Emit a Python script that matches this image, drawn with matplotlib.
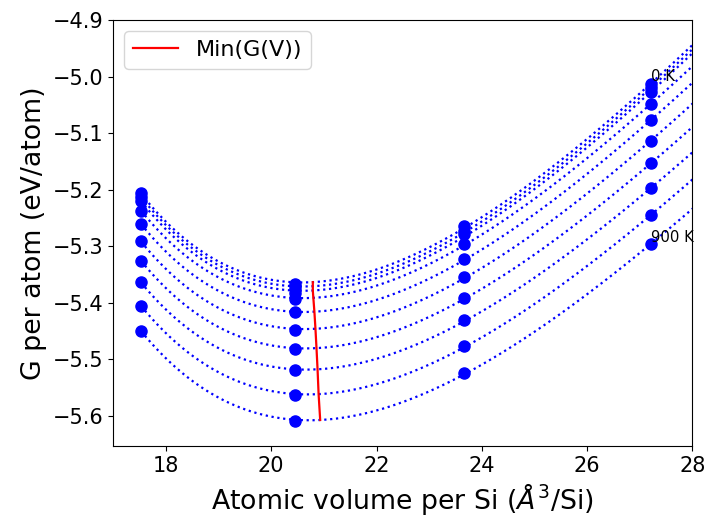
import matplotlib.pyplot as plt
import numpy as np

# atomic volume per Si (A^3)
volumes = np.array([17.53, 20.45, 23.67, 27.22])
temperatures = [0, 100, 200, 300, 400, 500, 600, 700, 800, 900]

# G per atom (eV/atom), one row per temperature, one column per volume
G = np.array([
    [-5.2065, -5.3670, -5.2637, -5.0130],
    [-5.2124, -5.3730, -5.2726, -5.0200],
    [-5.2195, -5.3820, -5.2784, -5.0278],
    [-5.2370, -5.3930, -5.2960, -5.0483],
    [-5.2607, -5.4170, -5.3227, -5.0767],
    [-5.2915, -5.4480, -5.3540, -5.1133],
    [-5.3257, -5.4820, -5.3906, -5.1535],
    [-5.3640, -5.5190, -5.4306, -5.1970],
    [-5.4053, -5.5630, -5.4760, -5.2448],
    [-5.4496, -5.6090, -5.5234, -5.2961],
])

# volume of the minimum at each temperature
v_min = np.array([20.79, 20.79, 20.79, 20.80, 20.82, 20.84, 20.86, 20.88, 20.90, 20.93])

fig = plt.figure(figsize=(7.05, 5.18), dpi=100)
ax = fig.add_axes([0.1607, 0.139, 0.8214, 0.8224])

# Birch-Murnaghan (2nd order): quadratic in V^(-2/3)
vfine = np.linspace(volumes.min(), 28.5, 300)
g_min = []
for i, T in enumerate(temperatures):
    coef = np.polyfit(volumes ** (-2 / 3), G[i], 2)
    fit = np.polyval(coef, vfine ** (-2 / 3))
    ax.plot(volumes, G[i], 'bo', markersize=8)
    ax.plot(vfine, fit, 'b:', linewidth=1.6)
    g_min.append(np.polyval(coef, v_min[i] ** (-2 / 3)))

ax.plot(v_min, g_min, 'r-', linewidth=1.6, label="Min(G(V))")

ax.text(volumes[-1], G[0, -1] + 0.005, "%d K" % temperatures[0], fontsize=10.7)
ax.text(volumes[-1], G[-1, -1] + 0.003, "%d K" % temperatures[-1], fontsize=10.7)

ax.set_xlim(17, 28)
ax.set_ylim(-5.653, -4.9)
ax.tick_params(labelsize=15)
ax.set_xlabel(r"Atomic volume per Si ($\AA^3$/Si)", fontsize=19.3)
ax.set_ylabel("G per atom (eV/atom)", fontsize=19.3)
ax.legend(loc="upper left", fontsize=16)

fig.savefig("out.png", dpi=100)
